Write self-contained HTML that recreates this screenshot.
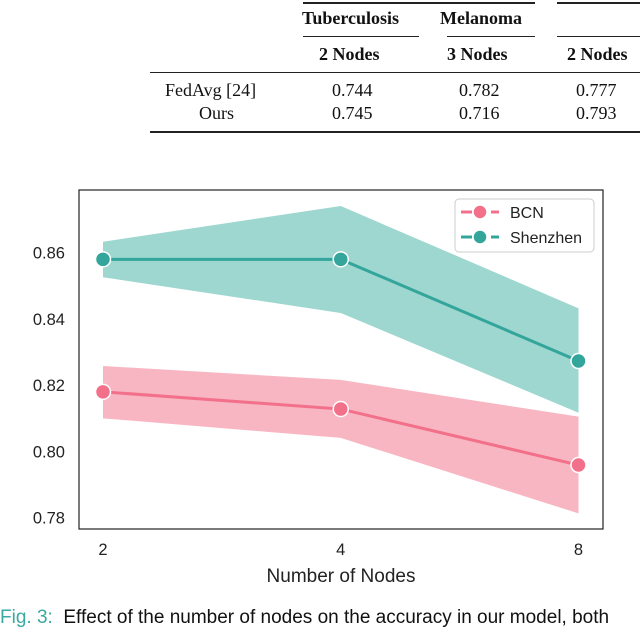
<!DOCTYPE html>
<html><head><meta charset="utf-8"><style>
body{margin:0;width:640px;height:614px;overflow:hidden;background:#fff;position:relative;font-family:"Liberation Serif",serif}
.t{position:absolute;font-size:18px;color:#111}
.b{font-weight:bold}
.line{position:absolute;background:#222}
</style></head><body>
<div>
<div class="line" style="left:303px;top:2px;width:232px;height:1.5px"></div>
<div class="line" style="left:557px;top:2px;width:90px;height:1.5px"></div>
<div class="t b" style="left:302px;top:8px">Tuberculosis</div>
<div class="t b" style="left:440px;top:8px">Melanoma</div>
<div class="line" style="left:303px;top:36px;width:116px;height:1px"></div>
<div class="line" style="left:447px;top:36px;width:88px;height:1px"></div>
<div class="line" style="left:557px;top:36px;width:90px;height:1px"></div>
<div class="t b" style="left:319px;top:44px">2 Nodes</div>
<div class="t b" style="left:447px;top:44px">3 Nodes</div>
<div class="t b" style="left:567px;top:44px">2 Nodes</div>
<div class="line" style="left:150px;top:72px;width:490px;height:1.2px"></div>
<div class="t" style="left:165px;top:80px">FedAvg [24]</div>
<div class="t" style="left:332px;top:80px">0.744</div>
<div class="t" style="left:459px;top:80px">0.782</div>
<div class="t" style="left:576px;top:80px">0.777</div>
<div class="t" style="left:199px;top:103px">Ours</div>
<div class="t" style="left:332px;top:103px">0.745</div>
<div class="t" style="left:459px;top:103px">0.716</div>
<div class="t" style="left:576px;top:103px">0.793</div>
<div class="line" style="left:150px;top:131px;width:490px;height:1.5px"></div>
</div>
<svg id="c" width="640" height="614" style="position:absolute;left:0;top:0" font-family="Liberation Sans, sans-serif"></svg>
<script>
const categories=["2","4","8"];
const yTicks=[0.86,0.84,0.82,0.80,0.78];
const yTickLabels=["0.86","0.84","0.82","0.80","0.78"];
const seriesNames=["BCN","Shenzhen"];
const bcnMean=[0.818,0.8128,0.7959];
const bcnUpper=[0.8258,0.8216,0.8105];
const bcnLower=[0.81,0.8041,0.7813];
const szMean=[0.858,0.858,0.8273];
const szUpper=[0.8633,0.8741,0.8432];
const szLower=[0.8526,0.8418,0.8117];
const NS="http://www.w3.org/2000/svg";
const svg=document.getElementById('c');
const L=79,R=603,T=190,B=529;
const xs=i=>103+i*(578.5-103)/(categories.length-1);
const ys=v=>252.7+(0.86-v)/0.02*66.25;
function mk(t,a){const e=document.createElementNS(NS,t);for(const k in a)e.setAttribute(k,a[k]);svg.appendChild(e);return e;}
const frame=mk('rect',{x:L,y:T,width:R-L,height:B-T,fill:'none',stroke:'#222','stroke-width':1.2});


yTicks.forEach((v,i)=>{const t=mk('text',{x:L-14,y:ys(v)+6,'text-anchor':'end','font-size':16.5,fill:'#222'});t.textContent=yTickLabels[i];

});
categories.forEach((c,i)=>{const t=mk('text',{x:xs(i),y:B+26,'text-anchor':'middle','font-size':16.5,fill:'#222'});t.textContent=c;

});
const xt=mk('text',{x:341,y:582,'text-anchor':'middle','font-size':19,fill:'#222'});xt.textContent='Number of Nodes';


function series(mean,up,lo,line,band,name){
 let d='M'+up.map((v,i)=>xs(i)+','+ys(v)).join('L')+'L'+lo.map((v,i)=>xs(i)+','+ys(v)).reverse().join('L')+'Z';
 const p=mk('path',{d,fill:band,stroke:'none'});
 
 
 const l=mk('polyline',{points:mean.map((v,i)=>xs(i)+','+ys(v)).join(' '),fill:'none',stroke:line,'stroke-width':3});
 
 
 mean.forEach((v,i)=>{const c=mk('circle',{cx:xs(i),cy:ys(v),r:7.5,fill:line,stroke:'#fff','stroke-width':1.5});
 
 });
}
series(szMean,szUpper,szLower,'#33a59a','#9dd7d0','shenzhen');
series(bcnMean,bcnUpper,bcnLower,'#f2708a','#f8b5c2','bcn');
const lg=mk('rect',{x:455,y:199,width:139,height:53,rx:4,fill:'#fff',stroke:'#ccc'});


[['#f2708a',seriesNames[0]],['#33a59a',seriesNames[1]]].forEach(([col,n],i)=>{
 const y=212+i*25;
 const ln=mk('line',{x1:461,y1:y,x2:499,y2:y,stroke:col,'stroke-width':3,'stroke-dasharray':'11 4'});
 
 
 const c=mk('circle',{cx:480,cy:y,r:7,fill:col,stroke:'#fff','stroke-width':1.5});
 
 
 const t=mk('text',{x:510,y:y+6,'font-size':16,fill:'#222'});t.textContent=n;
 
 
});
</script>
<div style="position:absolute;left:0;top:607px;font-family:'Liberation Sans',sans-serif;font-size:19px;white-space:nowrap;color:#111"><span style="color:#3aa99f">Fig. 3:</span>&nbsp; Effect of the number of nodes on the accuracy in our model, both</div>
</body></html>
